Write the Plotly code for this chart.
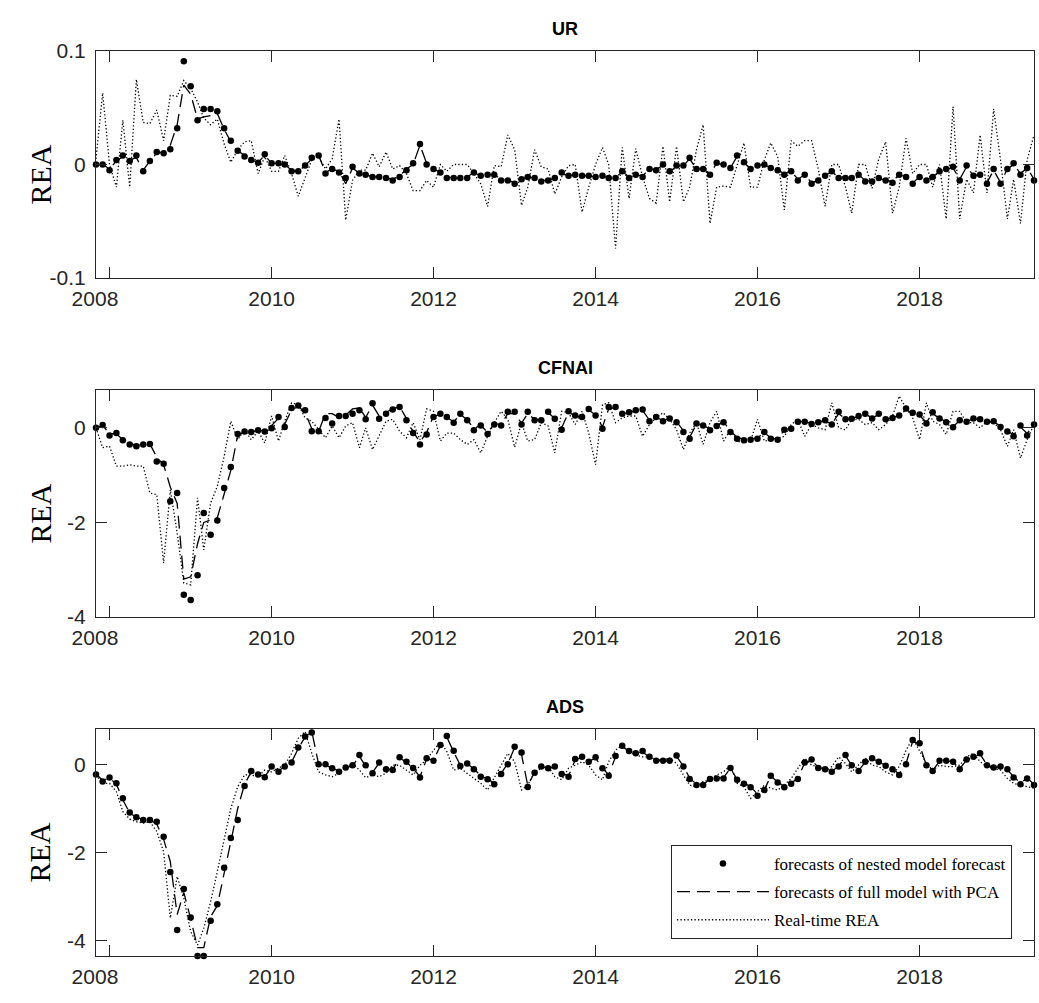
import pandas as pd
import plotly.graph_objects as go
from plotly.subplots import make_subplots

# Monthly forecast evaluation sample: Nov 2007 - Jun 2019
months = pd.date_range("2007-11-01", periods=140, freq="MS")

panel_names = ["UR", "CFNAI", "ADS"]

# ---------------- UR ----------------
ur_nested = [
    0.0, 0.0, -0.005, 0.004, 0.008, 0.003, 0.008, -0.006, 0.003, 0.011, 0.010, 0.0135, 0.032, 0.091, 0.069,
    0.039, 0.049, 0.049, 0.047, 0.032, 0.021, 0.012, 0.007, 0.004, 0.0015, 0.009, 0.001, 0.001, 0.0, -0.006,
    -0.006, -0.001, 0.006, 0.008, -0.008,
    -0.004, -0.007, -0.012, -0.002, -0.008, -0.009, -0.011, -0.011, -0.012, -0.014, -0.011, -0.005, 0.001,
    0.018, 0.0, -0.004, -0.007, -0.012, -0.012, -0.012, -0.012, -0.007, -0.010, -0.009, -0.009, -0.014,
    -0.014, -0.017, -0.013, -0.011, -0.012, -0.015, -0.014, -0.012, -0.007, -0.010,
    -0.009, -0.010, -0.010, -0.011, -0.010, -0.012, -0.012, -0.006, -0.012, -0.009, -0.011, -0.004, -0.005,
    0.0, -0.006, -0.001, -0.001, 0.006, -0.004, -0.004, -0.009, 0.0015, 0.0, -0.003, 0.008, 0.002, -0.004,
    -0.001, 0.0, -0.003, -0.005, -0.009, -0.006, -0.014, -0.009,
    -0.017, -0.014, -0.010, -0.006, -0.012, -0.012, -0.012, -0.009, -0.015, -0.015, -0.012, -0.014, -0.016,
    -0.009, -0.011, -0.017, -0.011, -0.014, -0.011, -0.006, -0.004, -0.002, -0.014, -0.001, -0.010, -0.009,
    -0.017, -0.004, -0.017, -0.004, 0.001, -0.009, -0.003, -0.014,
]
ur_full = [
    0.0, 0.0, -0.004, 0.003, 0.007, 0.004, 0.006, -0.005, 0.003, 0.010, 0.011, 0.017, 0.035, 0.070, 0.062,
    0.040, 0.042, 0.043, 0.045, 0.031, 0.020, 0.012, 0.008, 0.004, 0.002, 0.008, 0.001, 0.001, 0.0, -0.005,
    -0.006, -0.001, 0.005, 0.008, -0.007,
    -0.004, -0.006, -0.017, -0.003, -0.008, -0.009, -0.011, -0.011, -0.012, -0.013, -0.010, -0.004, 0.000,
    0.017, 0.001, -0.004, -0.007, -0.011, -0.012, -0.012, -0.011, -0.007, -0.010, -0.009, -0.009, -0.013,
    -0.014, -0.016, -0.013, -0.011, -0.012, -0.014, -0.014, -0.012, -0.008, -0.010,
    -0.009, -0.010, -0.010, -0.011, -0.010, -0.012, -0.012, -0.006, -0.011, -0.009, -0.010, -0.004, -0.004,
    -0.001, -0.006, -0.002, -0.001, 0.005, -0.004, -0.004, -0.008, 0.001, 0.000, -0.003, 0.007, 0.002, -0.004,
    -0.001, 0.000, -0.003, -0.005, -0.008, -0.006, -0.013, -0.009,
    -0.016, -0.014, -0.010, -0.006, -0.012, -0.012, -0.012, -0.009, -0.014, -0.015, -0.012, -0.014, -0.015,
    -0.009, -0.011, -0.016, -0.011, -0.013, -0.011, -0.006, -0.004, -0.003, -0.013, -0.002, -0.010, -0.009,
    -0.016, -0.005, -0.016, -0.004, 0.000, -0.008, -0.003, -0.013,
]
ur_real = [
    0.005, 0.063, 0.0, -0.020, 0.039, -0.020, 0.075, 0.037, 0.036, 0.048, 0.021, 0.061, 0.060, 0.074, 0.067,
    0.055, 0.041, 0.035, 0.040, 0.018, 0.002, 0.013, 0.020, 0.021, -0.008, 0.007, -0.006, -0.006, 0.008,
    -0.008, -0.028, -0.012, 0.004, 0.007, -0.004,
    0.005, 0.040, -0.049, -0.014, -0.005, -0.005, 0.010, -0.002, 0.011, -0.004, -0.001, -0.008, -0.023,
    -0.023, -0.014, -0.020, 0.0, -0.006, 0.0, 0.0, 0.0, -0.008, -0.017, -0.037, -0.001, -0.002, 0.026, 0.013,
    -0.036, -0.020, 0.013, -0.002, -0.004, -0.026, -0.011, -0.001,
    0.0, -0.042, -0.020, 0.0, 0.015, 0.0, -0.074, 0.015, -0.030, 0.014, -0.011, -0.030, -0.034, 0.016,
    -0.033, 0.016, -0.033, -0.020, 0.013, 0.035, -0.052, -0.020, -0.019, -0.020, 0.0, 0.019, -0.020, -0.020,
    0.004, 0.019, 0.007, -0.040, 0.021, 0.016, 0.021,
    0.021, -0.004, -0.037, 0.0, 0.0, -0.020, -0.043, 0.0, 0.0, -0.021, 0.005, 0.020, -0.043, -0.020, 0.023,
    -0.008, 0.0, 0.0, -0.020, 0.0, -0.048, 0.051, -0.048, -0.013, -0.025, 0.026, -0.025, 0.049, 0.004,
    -0.048, -0.013, -0.052, 0.004, 0.026,
]

# ---------------- CFNAI ----------------
cfnai_nested = [
    0.0, 0.06, -0.16, -0.11, -0.26, -0.35, -0.39, -0.35, -0.34, -0.71, -0.76, -1.55, -1.38, -3.53, -3.64,
    -3.12, -1.80, -2.26, -1.96, -1.27, -0.83, -0.13, -0.08, -0.09, -0.05, -0.08, -0.01, 0.23, 0.02, 0.42,
    0.47, 0.37, -0.07, -0.07, 0.21,
    0.09, 0.25, 0.25, 0.30, 0.37, 0.18, 0.52, 0.19, 0.30, 0.39, 0.44, 0.16, -0.11, -0.35, -0.14, 0.23, 0.30,
    0.23, 0.11, 0.30, 0.16, -0.05, 0.05, -0.13, 0.07, 0.05, 0.34, 0.34, 0.07, 0.34, 0.16, 0.16, 0.34, 0.19,
    -0.04, 0.35,
    0.26, 0.23, 0.40, 0.26, -0.02, 0.44, 0.44, 0.30, 0.33, 0.37, 0.39, 0.14, 0.23, 0.14, 0.20, 0.12, -0.09,
    -0.23, 0.09, 0.05, -0.05, 0.04, 0.12, -0.09, -0.23, -0.26, -0.25, -0.23, -0.09, -0.23, -0.25, -0.04,
    -0.02, 0.13, 0.13,
    0.08, 0.12, 0.16, 0.07, 0.34, 0.18, 0.19, 0.25, 0.30, 0.20, 0.30, 0.18, 0.21, 0.26, 0.41, 0.32, 0.28,
    0.09, 0.33, 0.20, 0.12, 0.01, 0.16, 0.13, 0.20, 0.18, 0.13, 0.14, 0.02, -0.08, -0.18, 0.05, -0.16, 0.07,
]
cfnai_full = [
    0.0, 0.05, -0.12, -0.13, -0.25, -0.33, -0.37, -0.35, -0.34, -0.62, -0.78, -1.25, -1.60, -3.20, -3.15,
    -2.45, -2.00, -1.95, -1.90, -1.40, -0.90, -0.15, -0.09, -0.08, -0.06, -0.06, 0.05, 0.20, 0.08, 0.38,
    0.45, 0.33, -0.02, -0.07, 0.30,
    0.30, 0.22, 0.27, 0.40, 0.42, 0.22, 0.48, 0.25, 0.33, 0.40, 0.45, 0.20, -0.08, -0.30, -0.10, 0.25, 0.28,
    0.22, 0.13, 0.28, 0.17, -0.02, 0.06, -0.10, 0.08, 0.08, 0.30, 0.30, 0.10, 0.30, 0.18, 0.17, 0.32, 0.20,
    0.00, 0.33,
    0.25, 0.24, 0.38, 0.27, 0.02, 0.40, 0.43, 0.30, 0.32, 0.36, 0.37, 0.16, 0.22, 0.16, 0.19, 0.13, -0.06,
    -0.20, 0.08, 0.06, -0.03, 0.05, 0.13, -0.07, -0.20, -0.24, -0.24, -0.21, -0.10, -0.21, -0.24, -0.04,
    -0.01, 0.12, 0.14,
    0.09, 0.12, 0.15, 0.08, 0.30, 0.19, 0.20, 0.24, 0.29, 0.21, 0.28, 0.19, 0.21, 0.27, 0.38, 0.31, 0.26,
    0.12, 0.30, 0.20, 0.13, 0.03, 0.15, 0.14, 0.19, 0.17, 0.13, 0.13, 0.03, -0.06, -0.15, 0.02, -0.12, 0.06,
]
cfnai_real = [
    0.0, -0.42, -0.39, -0.81, -0.81, -0.78, -0.81, -0.81, -1.38, -1.41, -2.86, -1.31, -2.22, -3.28, -3.32,
    -1.48, -2.58, -1.59, -1.24, -0.60, 0.14, -0.25, -0.04, -0.25, -0.07, -0.32, 0.25, -0.28, 0.14, 0.53,
    0.49, 0.21, 0.14, -0.04, -0.21,
    0.04, -0.21, 0.04, 0.11, -0.42, 0.00, -0.46, -0.18, 0.14, 0.18, -0.07, -0.21, 0.11, -0.25, 0.40, 0.35,
    -0.28, -0.11, -0.11, -0.25, -0.35, -0.25, -0.53, -0.18, 0.11, 0.35, 0.18, -0.41, 0.11, -0.28, -0.25,
    0.11, 0.04, -0.53, 0.35, 0.32,
    0.07, 0.35, -0.11, -0.78, 0.49, 0.53, 0.11, 0.21, 0.25, 0.25, -0.18, 0.07, 0.21, 0.32, 0.18, -0.04,
    -0.46, -0.11, 0.11, -0.35, 0.11, 0.35, -0.28, -0.04, -0.28, -0.32, -0.28, 0.18, -0.28, -0.25, -0.21,
    -0.18, 0.07, 0.18, -0.18,
    0.07, 0.00, -0.04, 0.53, 0.00, -0.04, 0.18, 0.18, 0.07, 0.11, -0.04, 0.07, 0.25, 0.67, 0.42, 0.21,
    -0.25, 0.53, 0.14, 0.07, -0.14, 0.35, 0.35, 0.11, 0.11, 0.00, 0.14, 0.11, -0.04, -0.39, -0.04, -0.64,
    -0.25, 0.07,
]

# ---------------- ADS ----------------
ads_nested = [
    -0.23, -0.39, -0.30, -0.43, -0.77, -1.09, -1.20, -1.26, -1.26, -1.30, -1.64, -2.44, -3.75, -2.82, -3.47,
    -4.34, -4.34, -3.54, -3.17, -2.34, -1.67, -1.26, -0.49, -0.15, -0.23, -0.29, -0.05, -0.17, -0.05, 0.04,
    0.38, 0.63, 0.72, 0.00, 0.00,
    -0.09, -0.17, -0.07, -0.02, 0.21, -0.02, -0.20, 0.04, -0.11, -0.13, 0.16, 0.06, -0.08, -0.30, 0.14, 0.08,
    0.44, 0.64, 0.31, -0.04, 0.02, -0.11, -0.28, -0.34, -0.45, -0.22, 0.00, 0.40, 0.27, -0.51, -0.19, -0.05,
    -0.09, -0.05, -0.22, -0.28,
    0.12, 0.17, 0.06, 0.16, -0.09, -0.26, 0.19, 0.42, 0.30, 0.25, 0.30, 0.17, 0.08, 0.08, 0.08, 0.20, -0.05,
    -0.33, -0.47, -0.47, -0.33, -0.32, -0.32, -0.08, -0.35, -0.44, -0.52, -0.71, -0.58, -0.26, -0.41, -0.52,
    -0.44, -0.33, 0.04,
    0.11, -0.08, -0.11, -0.17, -0.05, 0.21, -0.02, -0.15, 0.06, 0.14, 0.06, -0.03, -0.11, -0.24, 0.00, 0.55,
    0.48, -0.02, -0.15, 0.08, 0.08, 0.06, -0.11, 0.11, 0.17, 0.25, -0.02, -0.07, -0.05, -0.11, -0.30, -0.45,
    -0.32, -0.47,
]
ads_full = [
    -0.22, -0.36, -0.31, -0.45, -0.80, -1.10, -1.20, -1.25, -1.26, -1.35, -1.70, -2.20, -3.40, -2.90, -3.50,
    -4.15, -4.15, -3.45, -3.20, -2.50, -1.75, -1.00, -0.45, -0.17, -0.22, -0.28, -0.06, -0.15, -0.05, 0.05,
    0.36, 0.62, 0.75, 0.00, -0.02,
    -0.08, -0.15, -0.08, -0.03, 0.18, -0.04, -0.18, 0.03, -0.10, -0.12, 0.14, 0.05, -0.09, -0.28, 0.12, 0.10,
    0.42, 0.62, 0.28, -0.02, 0.01, -0.10, -0.26, -0.33, -0.43, -0.20, 0.02, 0.38, 0.22, -0.48, -0.18, -0.06,
    -0.08, -0.06, -0.20, -0.26,
    0.10, 0.16, 0.07, 0.14, -0.08, -0.24, 0.17, 0.40, 0.30, 0.25, 0.28, 0.16, 0.09, 0.07, 0.08, 0.18, -0.04,
    -0.31, -0.45, -0.46, -0.33, -0.31, -0.30, -0.09, -0.34, -0.43, -0.50, -0.68, -0.57, -0.27, -0.40, -0.50,
    -0.43, -0.31, 0.03,
    0.10, -0.07, -0.10, -0.15, -0.05, 0.19, -0.02, -0.14, 0.05, 0.13, 0.06, -0.03, -0.10, -0.22, 0.02, 0.52,
    0.45, -0.03, -0.14, 0.07, 0.08, 0.06, -0.10, 0.10, 0.16, 0.23, -0.01, -0.07, -0.06, -0.12, -0.28, -0.42,
    -0.31, -0.45,
]
ads_real = [
    -0.24, -0.43, -0.43, -0.62, -1.07, -1.24, -1.30, -1.33, -1.30, -1.52, -1.98, -3.48, -2.54, -3.03, -3.79,
    -4.09, -3.71, -3.11, -2.43, -1.67, -1.00, -0.51, -0.24, -0.24, -0.28, -0.13, -0.17, -0.08, -0.02, 0.25,
    0.59, 0.74, 0.25, -0.17, -0.24,
    -0.28, -0.20, -0.09, 0.02, -0.13, -0.30, -0.24, -0.28, -0.20, -0.02, -0.02, -0.13, -0.24, -0.02, 0.10,
    0.32, 0.51, 0.29, -0.13, -0.09, -0.20, -0.32, -0.43, -0.58, -0.32, -0.02, 0.25, 0.06, -0.58, -0.47,
    -0.17, -0.09, -0.05, -0.28, -0.35, -0.09,
    -0.02, 0.06, -0.02, -0.24, -0.35, 0.06, 0.32, 0.44, 0.29, 0.21, 0.17, 0.17, 0.10, 0.10, 0.14, 0.02,
    -0.24, -0.47, -0.51, -0.39, -0.35, -0.24, -0.17, -0.02, -0.43, -0.51, -0.77, -0.62, -0.47, -0.54, -0.58,
    -0.47, -0.32, -0.09, 0.14,
    -0.02, -0.05, -0.17, -0.05, 0.17, 0.02, -0.17, -0.02, 0.14, -0.02, -0.05, -0.17, -0.24, -0.05, 0.32,
    0.59, 0.29, 0.02, -0.13, -0.02, -0.05, -0.05, -0.02, 0.17, 0.25, 0.06, -0.05, -0.09, -0.13, -0.32,
    -0.43, -0.47, -0.51, -0.54,
]

nested = [ur_nested, cfnai_nested, ads_nested]
full = [ur_full, cfnai_full, ads_full]
realtime = [ur_real, cfnai_real, ads_real]
for group in (nested, full, realtime):
    for series in group:
        assert len(series) == len(months), len(series)

y_ranges = [[-0.1, 0.1], [-4.0, 0.8], [-4.34, 0.8]]
y_tickvals = [[-0.1, 0.0, 0.1], [-4, -2, 0], [-4, -2, 0]]
y_ticktext = [["-0.1", "0", "0.1"], ["-4", "-2", "0"], ["-4", "-2", "0"]]
x_tickvals = pd.to_datetime(["2008-01-01", "2010-01-01", "2012-01-01",
                             "2014-01-01", "2016-01-01", "2018-01-01"])
# first label sits a little left of its tick (padded with non-breaking spaces)
x_ticktext = ["2008" + "\u00a0" * 5, "2010", "2012", "2014", "2016", "2018"]

legend_labels = ["forecasts of nested model forecast",
                 "forecasts of full model with PCA",
                 "Real-time REA"]

INK = "#262626"
SANS = "Liberation Sans, Arial, sans-serif"
SERIF = "Liberation Serif, Times New Roman, serif"

fig = make_subplots(rows=3, cols=1)

domains = [[0.7492, 1.0], [0.3746, 0.6254], [0.0, 0.2508]]

for k in range(3):
    row = k + 1
    show = (k == 2)
    fig.add_trace(go.Scatter(
        x=months, y=realtime[k], mode="lines", name=legend_labels[2],
        line=dict(color="black", width=1.3, dash="1.3px,2.2px"),
        showlegend=show, legendgroup="c", legendrank=3,
    ), row=row, col=1)
    fig.add_trace(go.Scatter(
        x=months, y=full[k], mode="lines", name=legend_labels[1],
        line=dict(color="black", width=1.3, dash="13px,7px"),
        showlegend=show, legendgroup="b", legendrank=2,
    ), row=row, col=1)
    fig.add_trace(go.Scatter(
        x=months, y=nested[k], mode="markers", name=legend_labels[0],
        marker=dict(color="black", size=6.5),
        cliponaxis=False,
        showlegend=show, legendgroup="a", legendrank=1,
    ), row=row, col=1)

    axis_common = dict(
        showline=True, linecolor=INK, linewidth=1, mirror="ticks",
        ticks="inside", ticklen=11, tickwidth=1, tickcolor=INK,
        showgrid=False, zeroline=False,
        tickfont=dict(family=SANS, size=21, color=INK),
    )
    fig.update_xaxes(
        range=[months[0], months[-1]], tickvals=x_tickvals, ticktext=x_ticktext,
        ticklabelstandoff=2, **axis_common, row=row, col=1,
    )
    fig.update_yaxes(
        range=y_ranges[k], tickvals=y_tickvals[k], ticktext=y_ticktext[k],
        domain=domains[k], ticklabelstandoff=5, **axis_common, row=row, col=1,
    )

    # panel title
    fig.add_annotation(
        text="<b>%s</b>" % panel_names[k], xref="paper", yref="paper",
        x=0.5, y=domains[k][1], xanchor="center", yanchor="middle", yshift=22,
        showarrow=False, font=dict(family=SANS, size=18, color="black"),
    )
    # y-axis label
    fig.add_annotation(
        text="REA", xref="paper", yref="paper",
        x=0, y=(domains[k][0] + domains[k][1]) / 2, xanchor="center", yanchor="middle",
        xshift=-56, yshift=-10, textangle=-90,
        showarrow=False, font=dict(family=SERIF, size=30, color="black"),
    )

fig.update_layout(
    width=1039, height=1003,
    margin=dict(l=96, r=5, t=51, b=47),
    paper_bgcolor="white", plot_bgcolor="white",
    showlegend=True,
    legend=dict(
        x=0.9765, y=0.0188, xanchor="right", yanchor="bottom",
        bgcolor="white", bordercolor=INK, borderwidth=1,
        font=dict(family=SERIF, size=17, color="black"),
        itemwidth=92, tracegroupgap=3, traceorder="grouped",
    ),
)

fig.write_html("out.html")
